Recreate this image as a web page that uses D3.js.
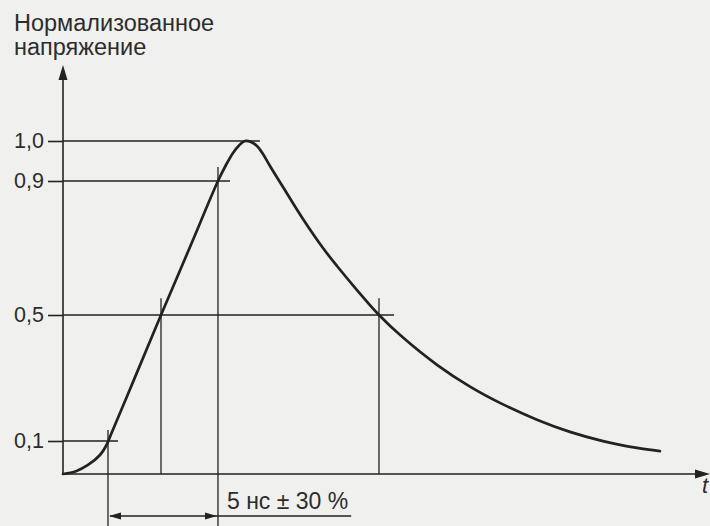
<!DOCTYPE html>
<html><head><meta charset="utf-8">
<script src="https://cdn.jsdelivr.net/npm/d3@7"></script>
<style>html,body{margin:0;padding:0;background:#f0f0ee}svg{display:block}</style>
</head><body><svg id="c" width="710" height="526"></svg>
<script>
// ---- data (time in ns, normalized voltage) ----
const pulseTime  = [0, 0.591, 1.136, 1.682, 1.955, 2.227, 3.227, 4.455, 5.773, 7.045, 7.409, 7.727, 8.0, 8.273, 8.545, 8.818, 9.091, 9.409, 10.0, 10.909, 11.818, 12.455, 13.364, 14.364, 15.455, 17.0, 18.5, 20.0, 21.545, 23.045, 24.545, 26.09, 27.136];
const pulseValue = [0, 0.0085, 0.0273, 0.0576, 0.0848, 0.1286, 0.2949, 0.50, 0.703, 0.90, 0.94, 0.97, 0.9888, 1.00, 0.9975, 0.9875, 0.9675, 0.9375, 0.8821, 0.7866, 0.70, 0.6463, 0.5746, 0.50, 0.4283, 0.3419, 0.2727, 0.2162, 0.1676, 0.1289, 0.0997, 0.0791, 0.0694];
const levelValues  = [1.0, 0.9, 0.5, 0.1];
const levelLabels  = ["1,0", "0,9", "0,5", "0,1"];
const levelEndTime = [8.95, 7.59, 15.05, 2.5];
const markerTime     = [2.045, 4.455, 7.045, 14.364];
const markerTopValue = [0.135, 0.55, 0.935, 0.55];
const markerBelow    = [true, false, true, false];
const riseStart = 2.045, riseEnd = 7.045;
const riseLabel = "5 нс ± 30 %";
const yTitle = ["Нормализованное", "напряжение"];
const xTitle = "t";
const timeMax = 29.32, valueMax = 1.19;

// ---- drawing ----
const W = 710, H = 526;
const svg = d3.select("#c");
const ink = "#222", textInk = "#2c2c2c";
const font = "'Liberation Sans', Arial, sans-serif";

const x = d3.scaleLinear().domain([0, timeMax]).range([63, 708]);
const y = d3.scaleLinear().domain([0, 0.1, 0.5, 0.9, 1.0]).range([474, 441, 315, 181, 141]);

// y axis with ticks
const yAxis = d3.axisLeft(y).tickValues(levelValues)
  .tickFormat((d, i) => levelLabels[i]).tickSize(15).tickSizeOuter(0).tickPadding(4);
const gy = svg.append("g").attr("transform", `translate(${x(0)},0)`).call(yAxis);
gy.select(".domain").remove();
gy.selectAll(".tick line").attr("stroke", ink).attr("stroke-width", 1.6);
gy.selectAll(".tick text").attr("fill", textInk).style("font-family", font).style("font-size", "21.5px");

// axis lines
svg.append("line").attr("x1", x(0)).attr("x2", x(0)).attr("y1", y(0)).attr("y2", y(valueMax) + 6)
  .attr("stroke", ink).attr("stroke-width", 1.6);
svg.append("line").attr("x1", x(0)).attr("x2", x(timeMax) - 6).attr("y1", y(0)).attr("y2", y(0))
  .attr("stroke", ink).attr("stroke-width", 1.6);
// arrowheads
const ay = y(valueMax), ax = x(timeMax) + 2;
svg.append("path").attr("d", `M${x(0)},${ay} L${x(0) - 4.5},${ay + 15} L${x(0) + 4.5},${ay + 15} Z`).attr("fill", ink);
svg.append("path").attr("d", `M${ax},${y(0)} L${ax - 15},${y(0) - 4.5} L${ax - 15},${y(0) + 4.5} Z`).attr("fill", ink);

// level lines
levelValues.forEach((v, i) => {
  svg.append("line").attr("x1", x(0)).attr("x2", x(levelEndTime[i]))
    .attr("y1", y(v)).attr("y2", y(v)).attr("stroke", ink).attr("stroke-width", 1.6);
});

// vertical markers
const dimY = y(0) + 42;
markerTime.forEach((t, i) => {
  svg.append("line").attr("x1", x(t)).attr("x2", x(t))
    .attr("y1", y(markerTopValue[i])).attr("y2", markerBelow[i] ? H : y(0))
    .attr("stroke", ink).attr("stroke-width", 1.3);
});

// pulse curve
const line = d3.line().x((d, i) => x(pulseTime[i])).y((d, i) => y(pulseValue[i]))
  .curve(d3.curveCatmullRom.alpha(0.5));
svg.append("path").datum(pulseTime).attr("d", line).attr("fill", "none")
  .attr("stroke", ink).attr("stroke-width", 2.7).attr("stroke-linecap", "round");

// rise time annotation
const lab = svg.append("text").attr("x", x(riseEnd) + 9).attr("y", dimY - 7)
  .attr("fill", textInk).style("font-family", font).style("font-size", "23px").text(riseLabel);
const labEnd = x(riseEnd) + 9 + lab.node().getComputedTextLength() + 3;
svg.append("line").attr("x1", x(riseStart) + 2).attr("x2", labEnd).attr("y1", dimY).attr("y2", dimY)
  .attr("stroke", ink).attr("stroke-width", 1.6);
const xs = x(riseStart) + 1, xe = x(riseEnd) - 1;
svg.append("path").attr("d", `M${xs},${dimY} L${xs + 12},${dimY - 3.5} L${xs + 12},${dimY + 3.5} Z`).attr("fill", ink);
svg.append("path").attr("d", `M${xe},${dimY} L${xe - 12},${dimY - 3.5} L${xe - 12},${dimY + 3.5} Z`).attr("fill", ink);

// titles
svg.append("text").attr("x", 14).attr("y", 31).attr("fill", textInk)
  .style("font-family", font).style("font-size", "23.5px").text(yTitle[0]);
svg.append("text").attr("x", 14).attr("y", 55).attr("fill", textInk)
  .style("font-family", font).style("font-size", "23.5px").text(yTitle[1]);
svg.append("text").attr("x", 702).attr("y", 493).attr("fill", textInk)
  .style("font-family", font).style("font-size", "22px").style("font-style", "italic").text(xTitle);
</script>
</body></html>
